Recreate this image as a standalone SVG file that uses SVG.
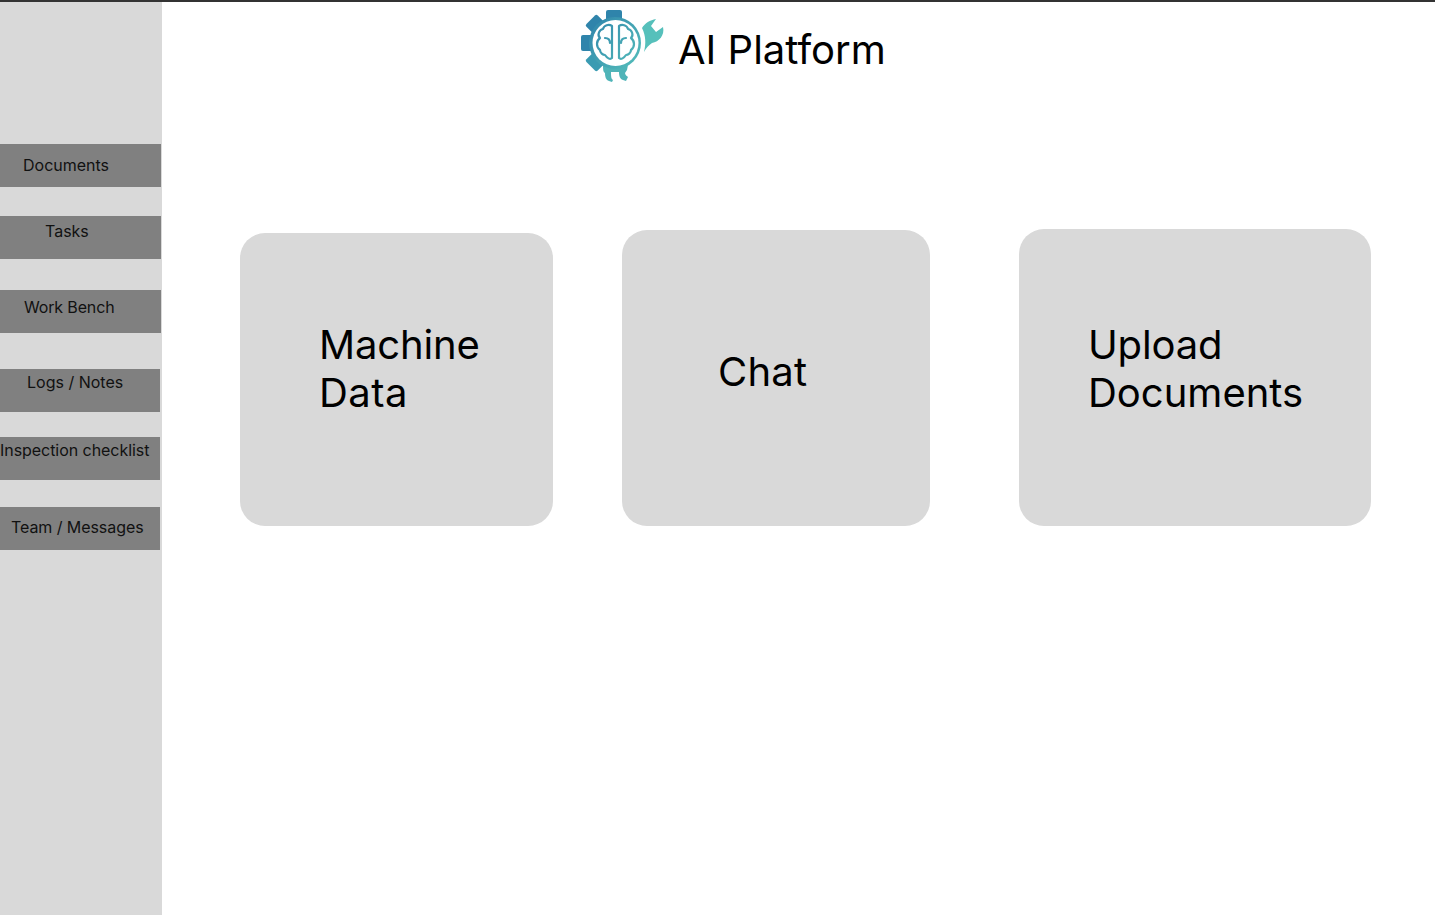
<svg xmlns="http://www.w3.org/2000/svg" width="1435" height="915" viewBox="0 0 1435 915">
<style>
text{font-family:Inter,"Liberation Sans",sans-serif;fill:#000}
.nav rect{fill:#808080}
.nav text{font-size:16px;fill:#111}
.card rect{fill:#d9d9d9}
.card text{font-size:40px}
</style>
<defs>
<linearGradient id="g" gradientUnits="userSpaceOnUse" x1="585" y1="25" x2="640" y2="70">
<stop offset="0" stop-color="#2f84ab"/><stop offset="1" stop-color="#56c0bb"/>
</linearGradient>
</defs>
<rect width="1435" height="915" fill="#fff"/>
<rect id="topline" width="1435" height="2" fill="#333"/>
<rect id="sidebar" y="2" width="162" height="913" fill="#d9d9d9"/>
<g id="logo">
<g fill="#2f84ab">
<rect x="606" y="10" width="16" height="14" rx="2"/>
<rect x="606" y="10" width="16" height="14" rx="2" transform="rotate(-45 614 43)"/>
<rect x="606" y="10" width="16" height="14" rx="2" transform="rotate(-90 614 43)"/>
<rect x="606" y="10" width="16" height="14" rx="2" fill="#3a9bb2" transform="rotate(-135 614 43)"/>
</g>
<path fill="#4fb4b8" d="M603 65h25l-1 5-2 3c0 2 2 3 3 4l-2 4-3-1c-3-1-4-4-4-8h-8c0 4 0 7 2 8l-1 2-3-1c-3-1-4-4-4-8-2-1-2-4-2-8z"/>
<circle cx="615" cy="43" r="26" fill="url(#g)"/>
<circle cx="615.500" cy="43" r="23" fill="#fff"/>
<g fill="none" stroke="url(#g)" stroke-width="2.200" stroke-linecap="round" stroke-linejoin="round">
<path d="M612 26c-3-2-8-1-9 3-4 1-6 6-3 9-4 3-4 9 0 12 0 3 3 5 5 5 2 3 5 5 7 3zM605 38c3 0 5 2 5 5"/>
<path d="M619 26c3-2 8-1 9 3 4 1 6 6 3 9 4 3 4 9 0 12 0 3-3 5-5 5-2 3-5 5-7 3zM626 38c-3 0-5 2-5 5"/>
</g>
<path fill="#56c0bb" d="M642 28C645 23 650 20 656 19L651 26 656 32 663 27C665 35 659 42 652 43 649 45 646 48 644 52 646 44 646 36 642 28z"/>
</g>
<text id="title" x="678" y="64" font-size="40">AI Platform</text>
<g id="nav-documents" class="nav"><rect y="144" width="161" height="43"/><text x="23" y="171">Documents</text></g>
<g id="nav-tasks" class="nav"><rect y="216" width="161" height="43"/><text x="45" y="237">Tasks</text></g>
<g id="nav-workbench" class="nav"><rect y="290" width="161" height="43"/><text x="24" y="313" letter-spacing="-0.15">Work Bench</text></g>
<g id="nav-logs" class="nav"><rect y="369" width="160" height="43"/><text x="27" y="388">Logs / Notes</text></g>
<g id="nav-inspection" class="nav"><rect y="437" width="160" height="43"/><text x="0" y="456" letter-spacing="-0.05">Inspection checklist</text></g>
<g id="nav-team" class="nav"><rect y="507" width="160" height="43"/><text x="11" y="533" letter-spacing="-0.07">Team / Messages</text></g>
<g id="card-machine" class="card"><rect x="240" y="233" width="313" height="293" rx="25"/><text x="319" y="359" letter-spacing="-0.15">Machine</text><text x="319" y="407" letter-spacing="0.5">Data</text></g>
<g id="card-chat" class="card"><rect x="622" y="230" width="308" height="296" rx="25"/><text x="718" y="386" letter-spacing="0.25">Chat</text></g>
<g id="card-upload" class="card"><rect x="1019" y="229" width="352" height="297" rx="25"/><text x="1088" y="359" letter-spacing="-0.15">Upload</text><text x="1088" y="407">Documents</text></g>
<g id="connectors"/>
</svg>
